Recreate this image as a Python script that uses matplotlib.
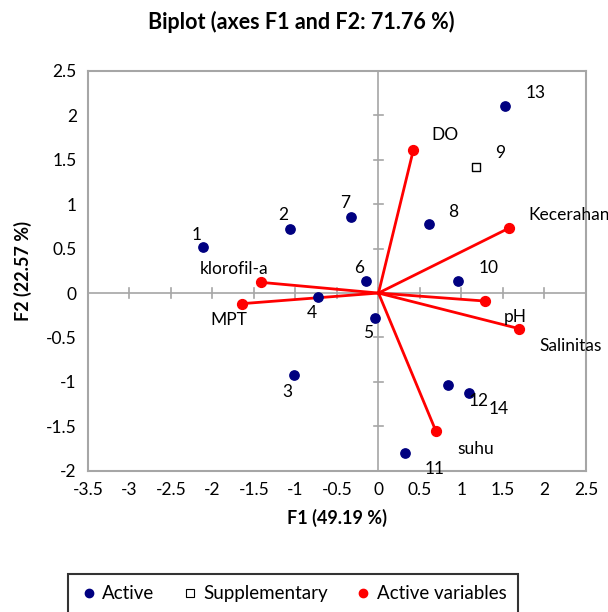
import numpy as np
import matplotlib.pyplot as plt
from matplotlib.lines import Line2D

plt.rcParams['font.family'] = ['Lato', 'DejaVu Sans']

# observations (active)
obs_names = ['1', '2', '3', '4', '5', '6', '7', '8', '10', '11', '12', '13', '14']
obs_f1 = [-2.11, -1.07, -1.02, -0.73, -0.04, -0.15, -0.33, 0.61, 0.96, 0.32, 0.84, 1.53, 1.09]
obs_f2 = [0.52, 0.72, -0.92, -0.05, -0.28, 0.14, 0.86, 0.78, 0.14, -1.80, -1.04, 2.11, -1.12]
obs_off = [(-7, 12), (-6, 14), (-6, -17), (-6, -16), (-7, -15), (-7, 13), (-6, 14),
           (24, 12), (30, 13), (30, -16), (30, -16), (30, 13), (30, -16)]

# supplementary observation
sup_names = ['9']
sup_f1 = [1.18]
sup_f2 = [1.42]
sup_off = [(24, 14)]

# active variables
var_names = ['DO', 'Kecerahan', 'klorofil-a', 'MPT', 'pH', 'Salinitas', 'suhu']
var_f1 = [0.42, 1.57, -1.41, -1.65, 1.28, 1.69, 0.69]
var_f2 = [1.61, 0.73, 0.12, -0.12, -0.09, -0.40, -1.55]
var_off = [(32, 15), (60, 13), (-27, 13), (-13, -16), (31, -16), (52, -17), (40, -18)]

navy = '#000080'
red = '#FF0000'
gray = '#A6A6A6'

fig = plt.figure(figsize=(6.08, 6.12), dpi=100)
ax = fig.add_axes([0.1447, 0.2309, 0.8191, 0.6531])

ax.set_xlim(-3.5, 2.5)
ax.set_ylim(-2, 2.5)
ax.set_xticks(np.arange(-3.5, 2.51, 0.5))
ax.set_yticks(np.arange(-2, 2.51, 0.5))
ax.set_xticklabels(['%g' % v for v in np.arange(-3.5, 2.51, 0.5)])
ax.set_yticklabels(['%g' % v for v in np.arange(-2, 2.51, 0.5)])
ax.tick_params(length=0, labelsize=12.5, pad=8)
for s in ax.spines.values():
    s.set_color(gray)
    s.set_linewidth(1.5)

# central axes with crossing ticks
ax.axhline(0, color=gray, lw=1.2, zorder=1)
ax.axvline(0, color=gray, lw=1.2, zorder=1)
for v in np.arange(-3.5, 2.51, 0.5):
    ax.plot([v, v], [-0.055, 0.055], color=gray, lw=1.2, zorder=1)
for v in np.arange(-2, 2.51, 0.5):
    ax.plot([-0.06, 0.06], [v, v], color=gray, lw=1.2, zorder=1)

# variable vectors
for x, y in zip(var_f1, var_f2):
    ax.plot([0, x], [0, y], color=red, lw=2, zorder=2)
ax.scatter(var_f1, var_f2, s=50, color=red, zorder=3)
ax.scatter(obs_f1, obs_f2, s=45, color=navy, zorder=3)
ax.scatter(sup_f1, sup_f2, s=40, marker='s', facecolor='white', edgecolor='black', lw=1, zorder=3)

for names, xs, ys, offs in [(obs_names, obs_f1, obs_f2, obs_off),
                            (sup_names, sup_f1, sup_f2, sup_off),
                            (var_names, var_f1, var_f2, var_off)]:
    for n, x, y, o in zip(names, xs, ys, offs):
        ax.annotate(n, (x, y), xytext=o, textcoords='offset pixels',
                    ha='center', va='center', fontsize=12.5)

fig.text(0.495, 0.964, 'Biplot (axes F1 and F2: 71.76 %)', ha='center', va='center',
         fontsize=15.5, fontweight='bold')
ax.set_xlabel('F1 (49.19 %)', fontsize=13, fontweight='bold', labelpad=8)
ax.set_ylabel('F2 (22.57 %)', fontsize=13, fontweight='bold', labelpad=10)

handles = [Line2D([], [], marker='o', ls='', color=navy, markersize=6),
           Line2D([], [], marker='s', ls='', markerfacecolor='white', markeredgecolor='black',
                  markersize=6, markeredgewidth=0.8),
           Line2D([], [], marker='o', ls='', color=red, markersize=6)]
leg = fig.legend(handles, ['Active', 'Supplementary', 'Active variables'], ncol=3,
                 loc='center', bbox_to_anchor=(0.482, 0.0295), fontsize=13.5, frameon=True,
                 fancybox=False, handletextpad=0.2, columnspacing=1.4, borderpad=0.6,
                 handlelength=1.0)
leg.get_frame().set_edgecolor('black')
leg.get_frame().set_linewidth(1.5)

fig.savefig('out.png', dpi=100)
